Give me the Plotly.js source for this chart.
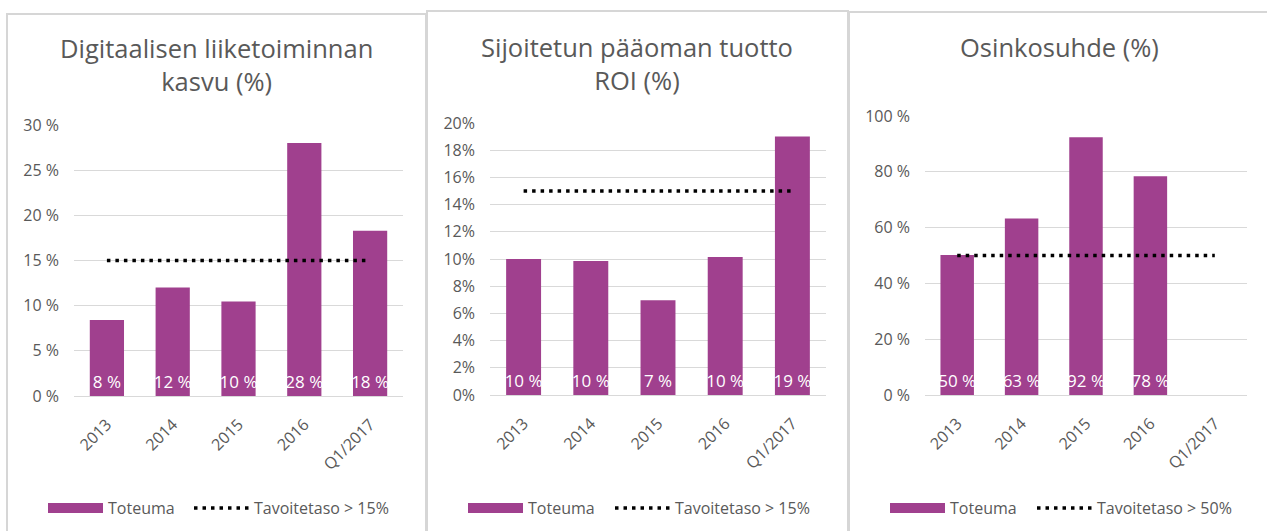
<!DOCTYPE html>
<html>
<head>
<meta charset="utf-8">
<script src="https://cdn.plot.ly/plotly-3.0.1.min.js"></script>
<style>html,body{margin:0;padding:0;background:#fff;}#chart{width:1267px;height:531px;}</style>
</head>
<body>
<div id="chart"></div>
<script>
const categories = ["2013", "2014", "2015", "2016", "Q1/2017"];
const digiGrowth = [8.4, 12.0, 10.45, 28.0, 18.3];
const digiTarget = [15, 15, 15, 15, 15];
const roi = [10.0, 9.85, 6.97, 10.15, 19.0];
const roiTarget = [15, 15, 15, 15, 15];
const payout = [50.2, 63.3, 92.4, 78.4, null];
const payoutTarget = [50, 50, 50, 50, 50];

const titles = ["Digitaalisen liiketoiminnan<br>kasvu (%)", "Sijoitetun pääoman tuotto<br>ROI (%)", "Osinkosuhde (%)"];
const barName = "Toteuma";
const targetNames = ["Tavoitetaso > 15%", "Tavoitetaso > 15%", "Tavoitetaso > 50%"];

const W = 1267, H = 531;
const px = v => v / W;
const py = v => 1 - v / H;

const PURPLE = "#A0408E";
const GRAY = "#595959";
const GRID = "#D9D9D9";
const FONT = "Open Sans, Noto Sans, sans-serif";
const DOT = "3.5px,5px";

const panels = [
  {vals: digiGrowth, tgt: digiTarget, xa: "x", ya: "y", lgA: "legend", lgB: "legend2", suffix: " %"},
  {vals: roi, tgt: roiTarget, xa: "x2", ya: "y2", lgA: "legend3", lgB: "legend4", suffix: " %"},
  {vals: payout, tgt: payoutTarget, xa: "x3", ya: "y3", lgA: "legend5", lgB: "legend6", suffix: " %"}
];

const traces = [];
panels.forEach((p, i) => {
  traces.push({
    type: "bar", x: categories, y: p.vals, xaxis: p.xa, yaxis: p.ya,
    marker: {color: PURPLE}, width: 0.52, showlegend: false, name: barName,
    texttemplate: "%{y:.0f}" + p.suffix, textposition: "inside", insidetextanchor: "start",
    textangle: 0, constraintext: "none", textfont: {color: "#FFFFFF", size: 17, family: FONT},
    hoverinfo: "skip"
  });
  traces.push({
    type: "scatter", mode: "lines", x: categories, y: p.tgt, xaxis: p.xa, yaxis: p.ya,
    line: {color: "#000000", width: 3.5, dash: DOT}, showlegend: false, name: targetNames[i],
    hoverinfo: "skip"
  });
  // legend entries
  traces.push({
    type: "scatter", mode: "lines", x: [null], y: [null], xaxis: p.xa, yaxis: p.ya,
    line: {color: PURPLE, width: 11}, name: barName, legend: p.lgA, showlegend: true
  });
  traces.push({
    type: "scatter", mode: "lines", x: [null], y: [null], xaxis: p.xa, yaxis: p.ya,
    line: {color: "#000000", width: 3.5, dash: DOT}, name: targetNames[i], legend: p.lgB, showlegend: true
  });
});

function xaxis(domain, anchor) {
  return {domain: domain, anchor: anchor, range: [-0.5, 4.5], type: "category",
    showgrid: false, zeroline: false, showline: false, ticks: "", ticklabelstandoff: 15,
    tickangle: -45, tickfont: {size: 16, color: GRAY, family: FONT}, fixedrange: true};
}
function yaxis(domain, anchor, range, dtick, suffix) {
  return {domain: domain, anchor: anchor, range: range, dtick: dtick, ticksuffix: suffix,
    showgrid: true, gridcolor: GRID, gridwidth: 1, zeroline: true, zerolinecolor: GRID, zerolinewidth: 1,
    showline: false, ticks: "", ticklabelstandoff: 14, tickfont: {size: 16, color: GRAY, family: FONT}, fixedrange: true};
}

function legend(x) {
  return {orientation: "h", x: px(x), xanchor: "left", y: py(508), yanchor: "middle",
    font: {size: 16, color: GRAY, family: FONT}, itemwidth: 55,
    bgcolor: "rgba(0,0,0,0)", itemclick: false, itemdoubleclick: false, tracegroupgap: 0};
}

const layout = {
  width: W, height: H, margin: {l: 0, r: 0, t: 0, b: 0},
  paper_bgcolor: "#FFFFFF", plot_bgcolor: "#FFFFFF", showlegend: true,
  font: {family: FONT, color: GRAY},
  xaxis: xaxis([px(74), px(403)], "y"),
  yaxis: yaxis([py(396), py(125)], "x", [0, 30], 5, " %"),
  xaxis2: xaxis([px(490), px(826)], "y2"),
  yaxis2: yaxis([py(395), py(123)], "x2", [0, 20], 2, "%"),
  xaxis3: xaxis([px(925), px(1247)], "y3"),
  yaxis3: yaxis([py(395), py(116)], "x3", [0, 100], 20, " %"),
  legend: legend(43),
  legend2: legend(189),
  legend3: legend(463),
  legend4: legend(610),
  legend5: legend(885),
  legend6: legend(1032),
  shapes: [
    {type: "rect", xref: "paper", yref: "paper", x0: px(7), x1: px(426), y0: py(540), y1: py(14), line: {color: "#D6D6D6", width: 2}, fillcolor: "rgba(0,0,0,0)", layer: "below"},
    {type: "rect", xref: "paper", yref: "paper", x0: px(427), x1: px(848), y0: py(540), y1: py(11), line: {color: "#D6D6D6", width: 2}, fillcolor: "rgba(0,0,0,0)", layer: "below"},
    {type: "rect", xref: "paper", yref: "paper", x0: px(849), x1: px(1275), y0: py(540), y1: py(12), line: {color: "#D6D6D6", width: 2}, fillcolor: "rgba(0,0,0,0)", layer: "below"}
  ],
  annotations: [
    {text: titles[0], xref: "paper", yref: "paper", x: px(216), y: py(65), xanchor: "center", yanchor: "middle", showarrow: false, font: {size: 25.5, color: GRAY, family: FONT}},
    {text: titles[1], xref: "paper", yref: "paper", x: px(637), y: py(63), xanchor: "center", yanchor: "middle", showarrow: false, font: {size: 25.5, color: GRAY, family: FONT}},
    {text: titles[2], xref: "paper", yref: "paper", x: px(1059), y: py(47), xanchor: "center", yanchor: "middle", showarrow: false, font: {size: 25.5, color: GRAY, family: FONT}}
  ]
};

Plotly.newPlot("chart", traces, layout, {displayModeBar: false, staticPlot: true});
</script>
</body>
</html>
